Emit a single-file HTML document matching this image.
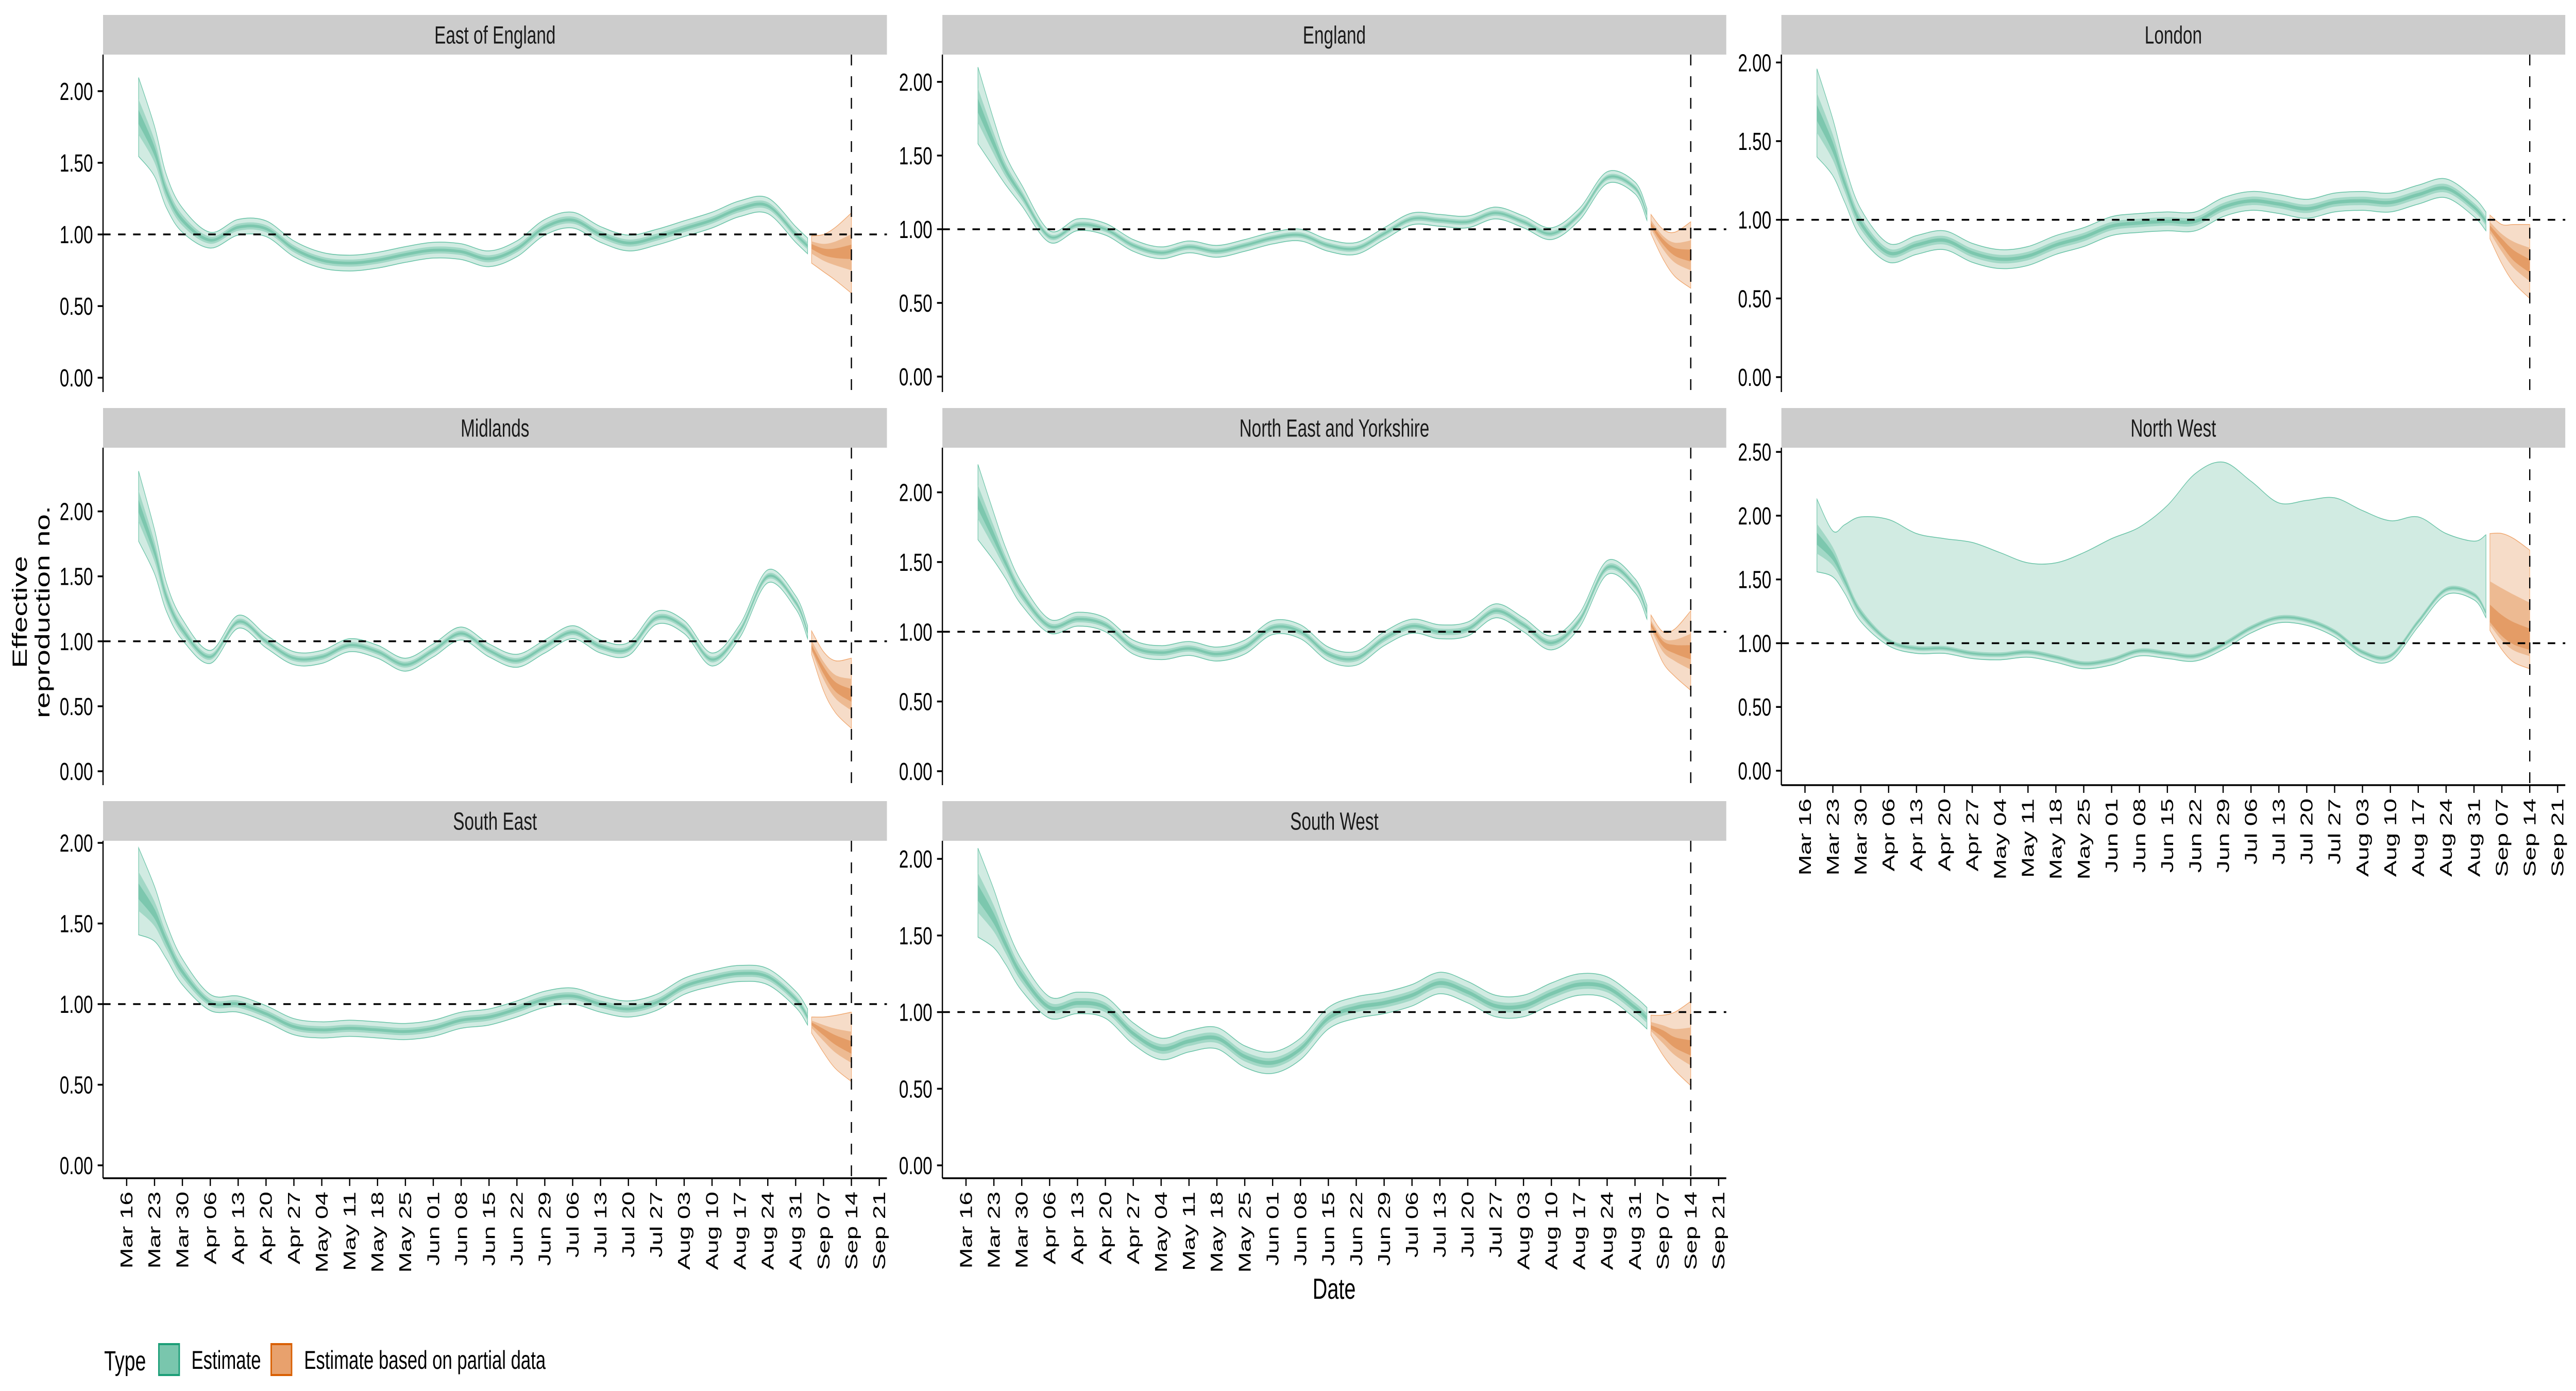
<!DOCTYPE html>
<html><head><meta charset="utf-8"><title>Effective reproduction number by region</title>
<style>
html,body{margin:0;padding:0;background:#fff;width:100%;height:100%;overflow:hidden;}
svg{display:block;font-family:"Liberation Sans",Arial,sans-serif;width:100vw;height:100vh;}
</style></head>
<body>
<svg id="chart" xmlns="http://www.w3.org/2000/svg" viewBox="0 0 7200 2700" preserveAspectRatio="none">
<rect x="0" y="0" width="7200" height="2700" fill="#ffffff"/>
<g id="panels"></g>
<text x="56" y="1188" font-size="57" text-anchor="middle" transform="rotate(-90 56 1188)" dominant-baseline="central">Effective</text>
<text x="120" y="1188" font-size="57" text-anchor="middle" transform="rotate(-90 120 1188)" dominant-baseline="central">reproduction no.</text>
<text x="3729" y="2521" font-size="57" text-anchor="middle">Date</text>
<g>
<text x="291" y="2660" font-size="54">Type</text>
<rect x="444" y="2609" width="57" height="60" fill="#79c6ad" stroke="#1b9e77" stroke-width="4"/>
<text x="535" y="2657" font-size="50">Estimate</text>
<rect x="758" y="2609" width="57" height="60" fill="#e8a16d" stroke="#d95f02" stroke-width="4"/>
<text x="850" y="2657" font-size="50">Estimate based on partial data</text>
</g>
</svg>
<script>
// ---- data (days since Mar 16) ----
const estDays = [3,7,10,14,21,28,35,42,49,56,63,70,77,84,91,98,105,112,119,126,133,140,147,154,161,168,171];
const partialDays = [172,175,178,182];
const tickLabels = ["Mar 16","Mar 23","Mar 30","Apr 06","Apr 13","Apr 20","Apr 27","May 04","May 11","May 18","May 25","Jun 01","Jun 08","Jun 15","Jun 22","Jun 29","Jul 06","Jul 13","Jul 20","Jul 27","Aug 03","Aug 10","Aug 17","Aug 24","Aug 31","Sep 07","Sep 14","Sep 21"];
const tickDays = [0,7,14,21,28,35,42,49,56,63,70,77,84,91,98,105,112,119,126,133,140,147,154,161,168,175,182,189];
const cutoffDay = 182;
const earlyExtra = [0.22,0.12,0.06,0.03];

const regionNames = ["East of England","England","London","Midlands","North East and Yorkshire","North West","South East","South West"];
const bandHalfWidth = [0.055,0.04,0.06,0.05,0.05,0.04,0.05,0.07];

const medEastOfEngland = [1.82,1.58,1.30,1.10,0.96,1.05,1.04,0.90,0.82,0.80,0.82,0.86,0.89,0.88,0.83,0.90,1.05,1.10,1.00,0.94,0.98,1.04,1.10,1.18,1.20,1.00,0.92];
const medEngland = [1.84,1.58,1.40,1.23,0.95,1.03,1.00,0.89,0.84,0.88,0.85,0.89,0.94,0.96,0.89,0.87,0.97,1.07,1.06,1.05,1.11,1.05,0.97,1.10,1.35,1.28,1.10];
const medLondon = [1.68,1.46,1.23,0.98,0.79,0.84,0.87,0.79,0.75,0.77,0.84,0.89,0.96,0.98,0.99,0.99,1.08,1.12,1.10,1.07,1.11,1.12,1.11,1.16,1.20,1.08,0.99];
const medMidlands = [2.04,1.69,1.34,1.09,0.88,1.15,1.00,0.87,0.88,0.97,0.92,0.82,0.93,1.06,0.93,0.85,0.96,1.07,0.96,0.94,1.18,1.11,0.86,1.08,1.50,1.30,1.07];
const medNEY = [1.93,1.68,1.49,1.27,1.04,1.09,1.05,0.89,0.85,0.88,0.84,0.89,1.03,1.00,0.84,0.81,0.95,1.04,1.00,1.02,1.15,1.05,0.92,1.08,1.46,1.33,1.14];
const medNorthWest = [1.82,1.68,1.49,1.24,1.02,0.96,0.96,0.92,0.91,0.93,0.89,0.84,0.87,0.94,0.92,0.90,0.99,1.12,1.20,1.18,1.09,0.93,0.90,1.17,1.42,1.38,1.24];
const upperNorthWest = [2.13,1.88,1.93,1.99,1.97,1.86,1.82,1.79,1.71,1.63,1.63,1.71,1.82,1.91,2.08,2.33,2.42,2.27,2.10,2.12,2.14,2.04,1.96,1.99,1.86,1.80,1.85];
const medSouthEast = [1.70,1.56,1.39,1.20,1.01,1.00,0.94,0.86,0.84,0.85,0.84,0.83,0.85,0.90,0.92,0.97,1.03,1.05,1.00,0.97,1.01,1.11,1.16,1.19,1.17,1.03,0.92];
const medSouthWest = [1.78,1.61,1.44,1.24,1.03,1.06,1.03,0.86,0.76,0.81,0.83,0.71,0.67,0.76,0.96,1.03,1.06,1.11,1.19,1.13,1.04,1.04,1.12,1.18,1.16,1.03,0.96];

const partMed = [[0.92,0.88,0.87,0.88],[1.03,0.92,0.85,0.82],[0.95,0.86,0.77,0.70],[0.95,0.78,0.65,0.58],[1.05,0.92,0.88,0.85],[1.18,1.08,1.02,0.98],[0.88,0.83,0.78,0.73],[0.90,0.86,0.80,0.76]];
const partLo = [[0.80,0.74,0.68,0.59],[0.97,0.80,0.68,0.60],[0.88,0.72,0.60,0.50],[0.90,0.62,0.45,0.33],[0.98,0.78,0.68,0.58],[1.10,0.95,0.85,0.80],[0.82,0.70,0.60,0.52],[0.85,0.72,0.62,0.52]];
const partHi = [[0.99,1.00,1.05,1.15],[1.10,1.00,0.98,1.05],[1.03,0.97,0.97,0.97],[1.08,0.92,0.85,0.87],[1.12,1.00,1.02,1.15],[1.86,1.86,1.82,1.73],[0.92,0.92,0.93,0.95],[0.98,0.98,1.00,1.07]];

const yMin = [-0.10,-0.105,-0.095,-0.107,-0.10,-0.113,-0.08,-0.084];
const yMax = [2.255,2.185,2.05,2.49,2.32,2.533,2.013,2.118];
const yTicks = [0,0.5,1,1.5,2,2.5];
const yTickLabels = ["0.00","0.50","1.00","1.50","2.00","2.50"];

const medians = [medEastOfEngland,medEngland,medLondon,medMidlands,medNEY,medNorthWest,medSouthEast,medSouthWest];

// ---- layout ----
const colX = [288,2634,4979];
const stripTop = [29,792,1555];
const PW = 2191, SH = 77, PH = 655;
const xDom = [-5.93,190.92];
const NS = "http://www.w3.org/2000/svg";
const root = document.getElementById('panels');

function mk(tag, attrs, parent){
  const e = document.createElementNS(NS, tag);
  for (const k in attrs) e.setAttribute(k, attrs[k]);
  (parent||root).appendChild(e);
  return e;
}
function smooth(pts){
  let d = "M" + pts[0][0].toFixed(1) + "," + pts[0][1].toFixed(1);
  for (let i=0;i<pts.length-1;i++){
    const p0 = pts[Math.max(0,i-1)], p1 = pts[i], p2 = pts[i+1], p3 = pts[Math.min(pts.length-1,i+2)];
    const c1x = p1[0]+(p2[0]-p0[0])/6, c1y = p1[1]+(p2[1]-p0[1])/6;
    const c2x = p2[0]-(p3[0]-p1[0])/6, c2y = p2[1]-(p3[1]-p1[1])/6;
    d += " C"+c1x.toFixed(1)+","+c1y.toFixed(1)+" "+c2x.toFixed(1)+","+c2y.toFixed(1)+" "+p2[0].toFixed(1)+","+p2[1].toFixed(1);
  }
  return d;
}
function bandPath(xs, up, lo, X, Y){
  const top = xs.map((d,i)=>[X(d),Y(up[i])]);
  const bot = xs.map((d,i)=>[X(d),Y(lo[i])]).reverse();
  return smooth(top) + " L" + smooth(bot).slice(1) + " Z";
}

regionNames.forEach((name, r) => {
  const col = r % 3, row = Math.floor(r / 3);
  const x0 = colX[col], sTop = stripTop[row], pTop = sTop + SH, pBot = pTop + PH;
  const X = d => x0 + (d - xDom[0]) / (xDom[1] - xDom[0]) * PW;
  const Y = v => pBot - (v - yMin[r]) / (yMax[r] - yMin[r]) * PH;
  const slug = name.toLowerCase().replace(/ /g,'-');
  const g = mk('g', {});
  
  

  const strip = mk('rect', {x:x0, y:sTop, width:PW, height:SH, fill:'#cccccc'}, g);
  
  
  const st = mk('text', {x:x0+PW/2, y:sTop+SH/2+17, 'font-size':48, 'text-anchor':'middle', fill:'#1a1a1a'}, g);
  st.textContent = name;
  
  

  const med = medians[r];
  const spread = estDays.map((d,i)=> bandHalfWidth[r] + (i < earlyExtra.length ? earlyExtra[i] : 0));
  const up90 = r === 5 ? upperNorthWest : med.map((m,i)=>m+spread[i]);
  const lo90 = med.map((m,i)=>m-spread[i]);
  const up50 = med.map((m,i)=>m+spread[i]*0.45), lo50 = med.map((m,i)=>m-spread[i]*0.45);
  const up20 = med.map((m,i)=>m+spread[i]*0.18), lo20 = med.map((m,i)=>m-spread[i]*0.18);
  const b1 = mk('path', {d:bandPath(estDays, up90, lo90, X, Y), fill:'#d1ebe2', stroke:'#66c2a5', 'stroke-width':1.5}, g);
  
  
  const b2 = mk('path', {d:bandPath(estDays, up50, lo50, X, Y), fill:'#a2d8c6'}, g);
  
  
  const b3 = mk('path', {d:bandPath(estDays, up20, lo20, X, Y), fill:'#7cc7ae'}, g);
  
  

  const pm = partMed[r], pl = partLo[r], ph = partHi[r];
  const pu50 = pm.map((m,i)=>m+(ph[i]-m)*0.45), pl50 = pm.map((m,i)=>m-(m-pl[i])*0.45);
  const pu20 = pm.map((m,i)=>m+(ph[i]-m)*0.18), pl20 = pm.map((m,i)=>m-(m-pl[i])*0.18);
  const o1 = mk('path', {d:bandPath(partialDays, ph, pl, X, Y), fill:'#f6dcc8', stroke:'#f0a870', 'stroke-width':1.5}, g);
  
  
  const o2 = mk('path', {d:bandPath(partialDays, pu50, pl50, X, Y), fill:'#edba92'}, g);
  
  
  const o3 = mk('path', {d:bandPath(partialDays, pu20, pl20, X, Y), fill:'#e49c66'}, g);
  
  

  const h = mk('line', {x1:x0, x2:x0+PW, y1:Y(1), y2:Y(1), stroke:'#000', 'stroke-width':3.5, 'stroke-dasharray':'21,21'}, g);
  
  
  const v = mk('line', {x1:X(cutoffDay), x2:X(cutoffDay), y1:pTop, y2:pBot, stroke:'#000', 'stroke-width':3.5, 'stroke-dasharray':'21,21'}, g);
  
  

  const ya = mk('line', {x1:x0, x2:x0, y1:pTop, y2:pBot, stroke:'#000', 'stroke-width':3.5}, g);
  
  
  yTicks.forEach((t,i)=>{
    if (t > yMax[r] || t < yMin[r]) return;
    const tk = mk('line', {x1:x0-15, x2:x0, y1:Y(t), y2:Y(t), stroke:'#000', 'stroke-width':3.5}, g);
    
    
    const tl = mk('text', {x:x0-28, y:Y(t)+17, 'font-size':48, 'text-anchor':'end'}, g);
    tl.textContent = yTickLabels[i];
    
    
  });

  const hasXAxis = row === 2 || (row === 1 && col === 2);
  if (hasXAxis){
    const xa = mk('line', {x1:x0, x2:x0+PW, y1:pBot, y2:pBot, stroke:'#000', 'stroke-width':3.5}, g);
    
    
    tickDays.forEach((d,i)=>{
      const tk = mk('line', {x1:X(d), x2:X(d), y1:pBot, y2:pBot+15, stroke:'#000', 'stroke-width':3.5}, g);
      
      
      const tx = X(d), ty = pBot + 26;
      const tl = mk('text', {x:tx, y:ty, 'font-size':48, 'text-anchor':'end', 'dominant-baseline':'central', transform:'rotate(-90 '+tx.toFixed(1)+' '+ty+')'}, g);
      tl.textContent = tickLabels[i];
      
      
    });
  }
});
</script>
</body></html>
